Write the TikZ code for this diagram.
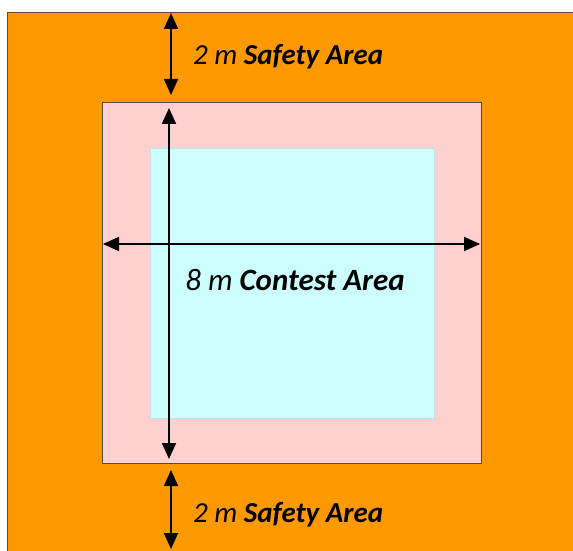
\documentclass[tikz,border=0pt]{standalone}
\usepackage{fontspec}
\setmainfont{Carlito}
\usetikzlibrary{arrows.meta,positioning}
\definecolor{safetyorange}{HTML}{FF9900}
\definecolor{bufferpink}{HTML}{FFD0D0}
\definecolor{contestcyan}{HTML}{CCFFFF}
\definecolor{edgegray}{HTML}{5A4A3A}
\tikzset{
    %Define standard arrow tip
    >={Triangle[width=14pt,length=16pt]},
    %Define style for areas
    area/.style={
           rectangle,
           inner sep=0pt,
           line width=1.2pt},
    % Define arrow style
    measure/.style={
           <->,
           line width=1.8pt},
    % Define label style
    tag/.style={
           font=\fontsize{29}{34}\selectfont\itshape,
           inner sep=0pt}
}

\begin{document}
\begin{tikzpicture}[x=1pt,y=1pt]
 \useasboundingbox (0,0) rectangle (573,550);
 \clip (0,0) rectangle (573,550);
 %areas
    \node[area, fill=safetyorange, draw=edgegray, minimum width=600pt, minimum height=560pt, anchor=north west] (safety) at (7,538) {};
    \node[area, fill=bufferpink, draw=edgegray, minimum width=379pt, minimum height=361pt, anchor=north west] (buffer) at (102,448) {};
    \node[area, fill=contestcyan, draw=contestcyan!80!gray, line width=0.6pt, minimum width=284pt, minimum height=270pt, anchor=north west] (contest) at (150,402) {};
 %anchors of the measures
    \coordinate (topa) at (171,537);
    \coordinate (topb) at (171,455);
    \coordinate (vera) at (169,442);
    \coordinate (verb) at (169,91);
    \coordinate (hora) at (103,306);
    \coordinate (horb) at (480,306);
    \coordinate (bota) at (171,80);
    \coordinate (botb) at (171,1);
 %measures
    \draw[measure] (topa) -- (topb);
    \draw[measure] (vera) -- (verb);
    \draw[measure] (hora) -- (horb);
    \draw[measure] (bota) -- (botb);
 %labels
    \node[tag, anchor=west] (toptag) at (193,493) {2 m \textbf{Safety Area}};
    \node[tag, font=\fontsize{31}{36}\selectfont\itshape] (midtag) at (295,270) {8 m \textbf{Contest Area}};
    \node[tag, anchor=west] (bottag) at (193,35) {2 m \textbf{Safety Area}};
\end{tikzpicture}
\end{document}
